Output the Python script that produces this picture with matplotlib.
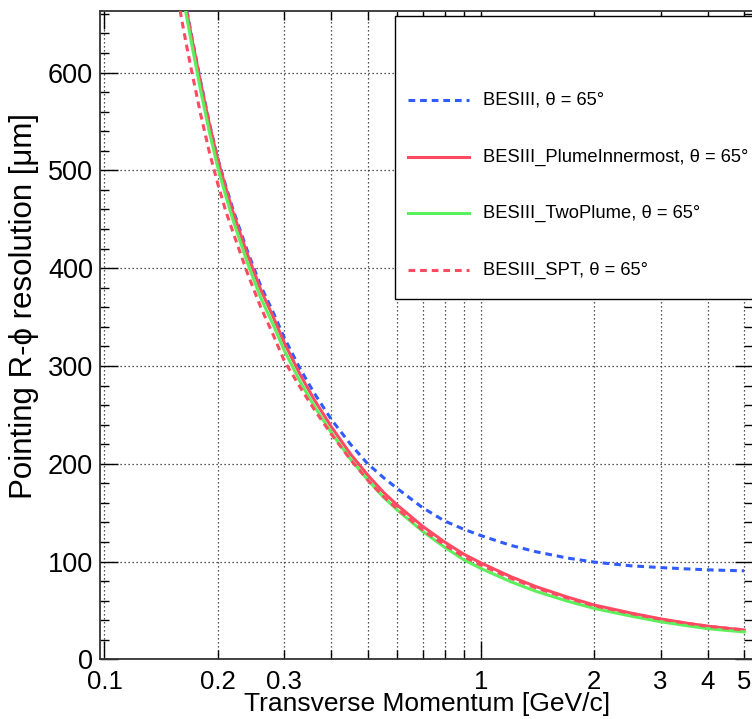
import matplotlib
matplotlib.use("Agg")
import matplotlib.pyplot as plt
from matplotlib.ticker import FixedLocator, FuncFormatter, MultipleLocator
from matplotlib.lines import Line2D
from matplotlib.patches import Rectangle

# ---------------- data ----------------
pt = [0.155, 0.16, 0.165, 0.17, 0.18, 0.19, 0.2, 0.21, 0.22, 0.24, 0.26, 0.28,
      0.3, 0.33, 0.36, 0.4, 0.45, 0.5, 0.55, 0.6, 0.7, 0.8, 0.9, 1.0, 1.2, 1.4,
      1.7, 2.0, 2.5, 3.0, 3.5, 4.0, 4.5, 5.0]

besiii = [730.5, 696.4, 666.3, 639.3, 591.2, 548.1, 512.0, 484.0, 458.7, 416.8,
          381.8, 355.6, 329.2, 297.8, 272.7, 245.5, 220.0, 200.0, 186.0, 174.5,
          155.0, 141.5, 133.0, 126.5, 116.5, 110.0, 103.5, 99.4, 95.6, 93.8,
          92.5, 91.5, 90.9, 90.5]

plume_innermost = [729, 695, 665, 638, 590, 547, 511, 482, 456, 413.5, 378, 351,
                   324, 292, 266, 238, 210, 188.5, 171, 157.5, 136, 120, 107.5,
                   98.5, 84.5, 74.3, 63.5, 55.5, 47.3, 41.3, 37.1, 33.9, 31.7, 30.0]

two_plume = [721.7, 688, 658.4, 631.6, 581.7, 538.8, 502.8, 473.8, 447.8, 404.8,
             369.7, 342.9, 316.2, 284.7, 259.4, 232, 204.8, 183.6, 166, 152.5,
             130.8, 114.7, 101.8, 92.8, 79.3, 69.5, 59.4, 52, 44.2, 38.4, 34.5,
             31.4, 29.5, 28.0]

spt = [686.4, 656.2, 628.7, 603.4, 557.5, 518.4, 486.1, 458.2, 435.5, 394.2,
       360.0, 332.7, 305.5, 278.9, 255.9, 230.4, 204.3, 183.4, 166.7, 153.7,
       132.2, 117.0, 104.9, 96.3, 82.8, 73.0, 62.5, 54.7, 46.8, 41.0, 36.9,
       33.8, 31.7, 30.1]

series_labels = ["BESIII, \u03b8 = 65\u00b0",
                 "BESIII_PlumeInnermost, \u03b8 = 65\u00b0",
                 "BESIII_TwoPlume, \u03b8 = 65\u00b0",
                 "BESIII_SPT, \u03b8 = 65\u00b0"]

x_major_ticks = [0.1, 1]
x_minor_ticks = [0.2, 0.3, 0.4, 0.5, 0.6, 0.7, 0.8, 0.9, 2, 3, 4, 5]
x_minor_labelled = [0.2, 0.3, 2, 3, 4, 5]

x_title = "Transverse Momentum [GeV/c]"
y_title = "Pointing R-\u03d5 resolution [\u03bcm]"

# ---------------- styling ----------------
W, H = 752, 719
FONT = ["Liberation Sans", "DejaVu Sans"]
plt.rcParams["font.family"] = FONT

c_blue = "#2f5bff"
c_red = "#ff4a62"
c_green = "#5cf05c"
lw = 2.2
dash = (0, (2.2, 1.6))

fig = plt.figure(figsize=(W / 100, H / 100), dpi=100)
left_px, right_px, top_px, bottom_px = 100, 753.2, 11, 659.3
ax = fig.add_axes([left_px / W, (H - bottom_px) / H,
                   (right_px - left_px) / W, (bottom_px - top_px) / H])

ax.plot(pt, besiii, color=c_blue, lw=lw, linestyle=dash, zorder=3)
ax.plot(pt, plume_innermost, color=c_red, lw=lw, zorder=4)
ax.plot(pt, two_plume, color=c_green, lw=lw, zorder=5)
ax.plot(pt, spt, color=c_red, lw=lw, linestyle=dash, zorder=6)

ax.set_xscale("log")
ax.set_xlim(0.09729, 5.284)
ax.set_ylim(0, 663)

ax.xaxis.set_major_locator(FixedLocator(x_major_ticks))
ax.xaxis.set_minor_locator(FixedLocator(x_minor_ticks))
ax.xaxis.set_major_formatter(FuncFormatter(lambda v, p: "%g" % v))
ax.xaxis.set_minor_formatter(FuncFormatter(
    lambda v, p: ("%g" % v) if any(abs(v - t) < 1e-9 for t in x_minor_labelled) else ""))
ax.yaxis.set_major_locator(MultipleLocator(100))
ax.yaxis.set_minor_locator(MultipleLocator(20))

ax.tick_params(which="both", direction="in", top=True, right=True,
               colors="black", width=1.0)
ax.tick_params(which="major", length=13)
ax.tick_params(which="minor", length=6.5)
ax.tick_params(axis="x", which="both", labelsize=18.5, pad=7.5)
ax.tick_params(axis="y", which="both", labelsize=19.5, pad=5)

gridkw = dict(color="#222222", linestyle=(0, (1, 2.2)), linewidth=0.9)
ax.grid(True, axis="x", which="both", **gridkw)
ax.grid(True, axis="y", which="major", **gridkw)
ax.set_axisbelow(True)

for s in ax.spines.values():
    s.set_linewidth(1.3)
    s.set_color("#333333")

# axis titles
fig.text(427 / W, 1 - 703.8 / H, x_title, ha="center", va="center", fontsize=19)
fig.text(24 / W, 1 - 306 / H, y_title, ha="center", va="center",
         rotation=90, fontsize=22.5)

# legend (box drawn in figure pixel space)
to_fig = lambda x, y: (x / W, 1 - y / H)
bx0, by0 = to_fig(395, 299)
bx1, by1 = to_fig(770, 16)
fig.add_artist(Rectangle((bx0, by0), bx1 - bx0, by1 - by0, transform=fig.transFigure,
                         facecolor="white", edgecolor="black", linewidth=1.0, zorder=10))
styles = [(c_blue, dash), (c_red, "-"), (c_green, "-"), (c_red, dash)]
rows = [100, 157, 213, 270]
for (col, ls), lab, ry in zip(styles, series_labels, rows):
    xa, ya = to_fig(408, ry)
    xb, _ = to_fig(469, ry)
    fig.add_artist(Line2D([xa, xb], [ya, ya], transform=fig.transFigure, color=col,
                          lw=lw, linestyle=ls, zorder=11))
    tx, ty = to_fig(483, ry)
    fig.text(tx, ty, lab, ha="left", va="center", fontsize=13.2, zorder=12)

fig.savefig("out.png", dpi=100)
